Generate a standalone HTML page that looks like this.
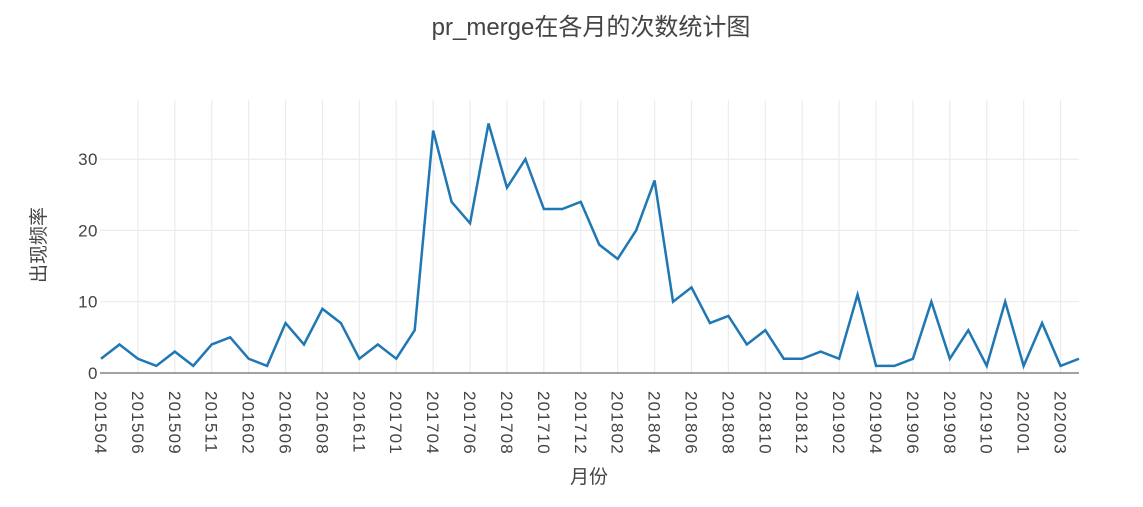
<!DOCTYPE html>
<html><head><meta charset="utf-8"><style>
body{margin:0;background:#fff;}
svg text{font-family:"Liberation Sans","Noto Sans CJK SC",sans-serif;fill:#444;}
</style></head><body>
<svg id="chart" width="1143" height="502" xmlns="http://www.w3.org/2000/svg">
<text x="591" y="35" font-size="24" text-anchor="middle">pr_merge在各月的次数统计图</text>
<g id="grid"></g><g id="xt"></g><g id="yt"></g>
<text transform="translate(45,245) rotate(-90)" font-size="19" text-anchor="middle">出现频率</text>
<text x="589" y="483" font-size="19" text-anchor="middle">月份</text>
<path id="line" fill="none" stroke="#1f77b4" stroke-width="2.5"/>
</svg>
<script>
const categories=["201504","201505","201506","201508","201509","201510","201511","201512","201602","201603","201606","201607","201608","201610","201611","201612","201701","201703","201704","201705","201706","201707","201708","201709","201710","201711","201712","201801","201802","201803","201804","201805","201806","201807","201808","201809","201810","201811","201812","201901","201902","201903","201904","201905","201906","201907","201908","201909","201910","201911","202001","202002","202003","202004"];
const values=[2,4,2,1,3,1,4,5,2,1,7,4,9,7,2,4,2,6,34,24,21,35,26,30,23,23,24,18,16,20,27,10,12,7,8,4,6,2,2,3,2,11,1,1,2,10,2,6,1,10,1,7,1,2];
const yTicks=[0,10,20,30];
const L=101,R=1079,Y0=373,PU=7.13;
const ns="http://www.w3.org/2000/svg";
const xs=i=>L+i*(R-L)/(categories.length-1);
const ys=v=>Y0-v*PU;
const g=document.getElementById('grid'),xt=document.getElementById('xt'),yt=document.getElementById('yt');
function mk(t,a,p){const e=document.createElementNS(ns,t);for(const k in a)e.setAttribute(k,a[k]);p.appendChild(e);return e;}
yTicks.forEach(v=>{
 if(v>0){const l=mk('line',{x1:100,x2:R,y1:ys(v),y2:ys(v),stroke:'#ececec','stroke-width':1.2},g);
 
 }
 const t=mk('text',{x:98,y:ys(v)+6,'font-size':17,'letter-spacing':'0.5','text-anchor':'end'},yt);t.textContent=v;
 
 
});
categories.forEach((c,i)=>{
 if(i%2)return;
 const x=xs(i);
 if(i>0){const l=mk('line',{x1:x,x2:x,y1:100,y2:Y0,stroke:'#ececec','stroke-width':1.2},g);
 
 }
 const t=mk('text',{transform:`translate(${x-6},391) rotate(90)`,'font-size':17,'letter-spacing':'1.2'},xt);t.textContent=c;
 
 
});
const z=mk('line',{x1:100,x2:R,y1:Y0,y2:Y0,stroke:'#444','stroke-width':1},g);


document.getElementById('line').setAttribute('d',values.map((v,i)=>(i?'L':'M')+xs(i)+','+ys(v)).join(''));
</script>
</body></html>
